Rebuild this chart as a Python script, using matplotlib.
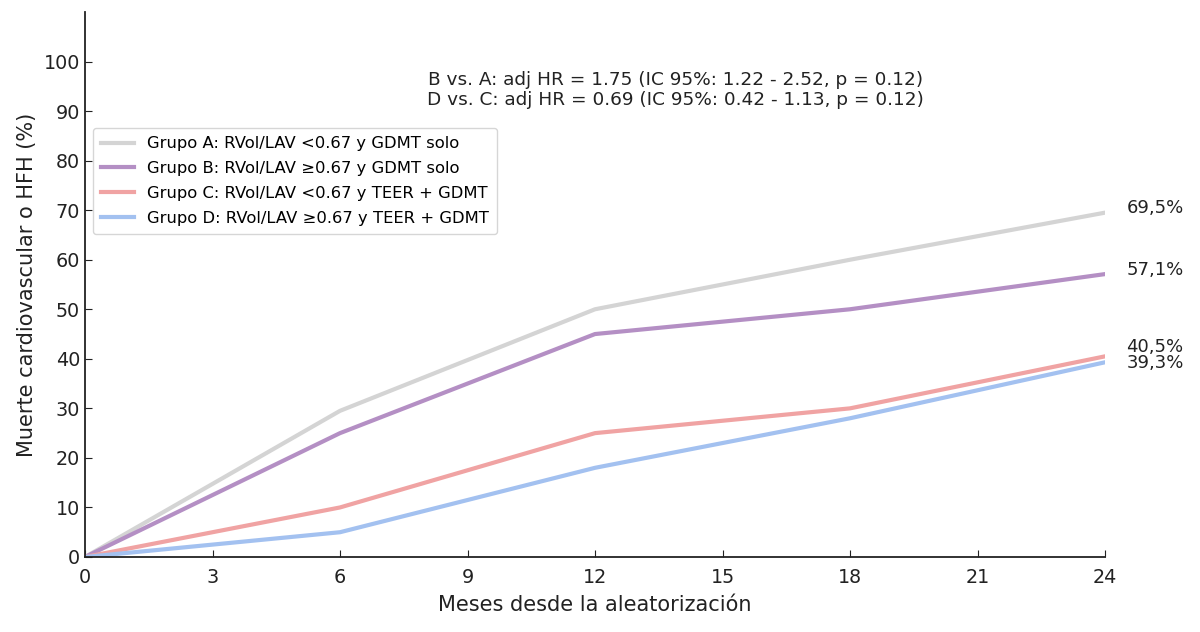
import matplotlib.pyplot as plt

# data
months = [0, 6, 12, 18, 24]
grupo_a = [0, 29.5, 50.0, 60.0, 69.5]
grupo_b = [0, 25.0, 45.0, 50.0, 57.1]
grupo_c = [0, 10.0, 25.0, 30.0, 40.5]
grupo_d = [0, 5.0, 18.0, 28.0, 39.3]

labels = [
    "Grupo A: RVol/LAV <0.67 y GDMT solo",
    "Grupo B: RVol/LAV \u22650.67 y GDMT solo",
    "Grupo C: RVol/LAV <0.67 y TEER + GDMT",
    "Grupo D: RVol/LAV \u22650.67 y TEER + GDMT",
]
end_labels = ["69,5%", "57,1%", "40,5%", "39,3%"]
colors = ["#d4d4d4", "#b48fc4", "#f0a3a3", "#a3c1f0"]

fig = plt.figure(figsize=(12, 6.32), dpi=100)
ax = fig.add_axes([85 / 1200, 75 / 632, 1020 / 1200, 545 / 632])

series = [grupo_a, grupo_b, grupo_c, grupo_d]
for vals, lab, col in zip(series, labels, colors):
    ax.plot(months, vals, color=col, lw=3, label=lab, solid_joinstyle="round")

# percentage labels at the end of each curve
offsets = [1.0, 0.9, 1.9, -0.2]
for vals, txt, off in zip(series, end_labels, offsets):
    ax.text(24.5, vals[-1] + off, txt, fontsize=13, color="#222222",
            va="center", ha="left", clip_on=False)

ax.text(13.9, 94.3,
        "B vs. A: adj HR = 1.75 (IC 95%: 1.22 - 2.52, p = 0.12)\n"
        "D vs. C: adj HR = 0.69 (IC 95%: 0.42 - 1.13, p = 0.12)",
        ha="center", va="center", fontsize=13.3, color="#222222",
        linespacing=1.15)

ax.set_xlim(0, 24)
ax.set_ylim(0, 110)
ax.set_xticks(range(0, 25, 3))
ax.set_yticks(range(0, 101, 10))
ax.tick_params(direction="in", labelsize=13.8, colors="#222222", length=5)
ax.tick_params(axis="x", pad=8)
ax.spines["top"].set_visible(False)
ax.spines["right"].set_visible(False)
for s in ["left", "bottom"]:
    ax.spines[s].set_linewidth(1.3)
    ax.spines[s].set_color("#222222")

ax.set_xlabel("Meses desde la aleatorización", fontsize=15, color="#222222",
              labelpad=6)
ax.set_ylabel("Muerte cardiovascular o HFH (%)", fontsize=15, color="#222222",
              labelpad=5)

ax.legend(loc="upper left", bbox_to_anchor=(0.008, 0.787), borderaxespad=0,
          fontsize=11.8, frameon=True, handlelength=2.0, borderpad=0.5,
          labelspacing=0.6)

fig.savefig("out.png", dpi=100)
